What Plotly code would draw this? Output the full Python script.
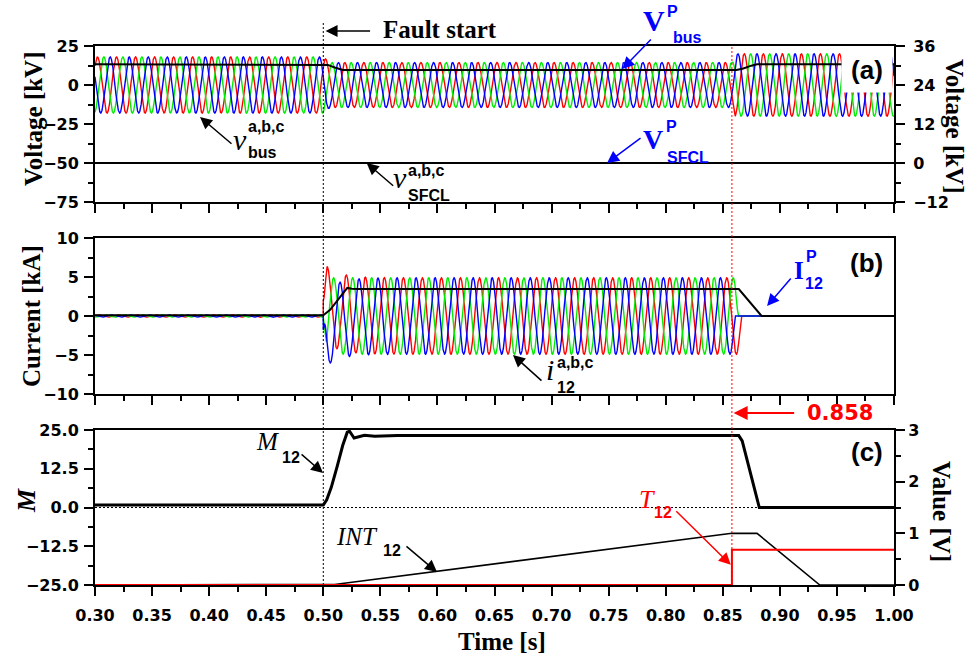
import numpy as np
import plotly.graph_objects as go

# ---------------- data ----------------
T_MIN, T_MAX = 0.30, 1.00
FAULT_T = 0.50          # fault start [s]
CLEAR_T = 0.858         # trip instant [s]
F_GRID = 60.0           # Hz (counted cycles)
PHASE_COLORS = ["#ff0000", "#00ee00", "#0000ff"]
phase_i_rad = [0.25, 0.25 - 2.094, 0.25 + 2.094]     # current phase a,b,c
phase_v_rad = [0.75, 0.75 - 2.094, 0.75 + 2.094]     # voltage phase a,b,c

# bus voltage peak envelope [kV]
vbus_env_t = [0.300, 0.500, 0.506, 0.858, 0.861, 1.000]
vbus_env_amp = [18.0, 18.0, 14.4, 14.4, 20.0, 20.0]

# line current peak envelope [kA]
i12_env_t = [0.300, 0.500, 0.503, 0.858, 1.000]
i12_env_amp = [0.15, 0.15, 4.9, 4.9, 4.9]
i12_dc_offset = [1.9, 0.0, -1.9]      # kA, decaying offset at fault inception
i12_dc_tau = 0.012                    # s

# peak-value signals
vp_bus_t = [0.300, 0.500, 0.504, 0.510, 0.517, 0.862, 0.868, 0.875, 0.880, 1.000]
vp_bus = [13.3, 13.3, 12.9, 11.2, 9.6, 9.6, 10.6, 12.4, 13.3, 13.3]          # kV
ip12_t = [0.300, 0.500, 0.506, 0.521, 0.525, 0.530, 0.864, 0.884, 1.000]
ip12 = [0.1, 0.1, 0.8, 3.6, 3.5, 3.45, 3.45, 0.0, 0.0]                         # kA
vsfcl_t = [0.300, 1.000]
vsfcl = [0.0, 0.0]                                                              # kV

# protection signals
m12_t = [0.300, 0.500, 0.503, 0.507, 0.512, 0.517, 0.521, 0.523, 0.527, 0.531,
         0.536, 0.545, 0.555, 0.565, 0.864, 0.867, 0.882, 1.000]
m12 = [0.8, 0.8, 2.5, 6.5, 13.0, 20.0, 24.3, 24.6, 22.4, 22.9,
       23.3, 23.0, 23.2, 23.2, 23.2, 21.5, 0.0, 0.0]
int12_t = [0.300, 0.500, 0.510, 0.520, 0.858, 0.880, 0.935, 1.000]
int12 = [0.0, 0.0, 0.01, 0.04, 1.0, 1.0, 0.0, 0.0]                              # V
t12_t = [0.300, 0.858, 0.858, 1.000]
t12 = [0.0, 0.0, 0.68, 0.68]                                                    # V

# ---------------- waveforms built from the envelopes ----------------
t = np.linspace(T_MIN, T_MAX, 14001)
w = 2 * np.pi * F_GRID
vbus_amp = np.interp(t, vbus_env_t, vbus_env_amp)
vbus = [vbus_amp * np.sin(w * t + ph) for ph in phase_v_rad]

i_amp = np.interp(t, i12_env_t, i12_env_amp)
dc_decay = np.where(t >= FAULT_T, np.exp(-(t - FAULT_T) / i12_dc_tau), 0.0)
i12 = []
k0 = int(np.searchsorted(t, CLEAR_T))
for ph, d in zip(phase_i_rad, i12_dc_offset):
    y = i_amp * np.sin(w * t + ph) + d * dc_decay
    s = np.sign(y[k0:])
    cross = np.nonzero(s[1:] * s[:-1] <= 0)[0]
    y[k0 + cross[0] + 1:] = 0.0          # breaker opens at current zero
    i12.append(y)

# ---------------- layout geometry ----------------
W, H = 974, 657
ML, MR, MT, MB = 95, 80, 46, 72
PW, PH = W - ML - MR, H - MT - MB


def px(x):
    return (x - ML) / PW


def py(y):
    return (H - MB - y) / PH


TICKFONT = dict(family="DejaVu Sans", size=16, color="black", weight="bold")
SERIF = "Liberation Serif"
SANS = "Liberation Sans"

fig = go.Figure()
LW = 1.4
for k in range(3):
    fig.add_trace(go.Scatter(x=t, y=vbus[k], xaxis="x", yaxis="y", mode="lines",
                             line=dict(color=PHASE_COLORS[k], width=LW)))
fig.add_trace(go.Scatter(x=vp_bus_t, y=vp_bus, xaxis="x", yaxis="y", mode="lines",
                         line=dict(color="black", width=2)))
for k in range(3):
    fig.add_trace(go.Scatter(x=vsfcl_t, y=vsfcl, xaxis="x", yaxis="y2", mode="lines",
                             line=dict(color=PHASE_COLORS[k], width=LW)))
fig.add_trace(go.Scatter(x=vsfcl_t, y=vsfcl, xaxis="x", yaxis="y2", mode="lines",
                         line=dict(color="black", width=2)))

for k in range(3):
    fig.add_trace(go.Scatter(x=t, y=i12[k], xaxis="x2", yaxis="y3", mode="lines",
                             line=dict(color=PHASE_COLORS[k], width=LW)))
fig.add_trace(go.Scatter(x=ip12_t, y=ip12, xaxis="x2", yaxis="y3", mode="lines",
                         line=dict(color="black", width=2)))

fig.add_trace(go.Scatter(x=m12_t, y=m12, xaxis="x3", yaxis="y4", mode="lines",
                         line=dict(color="black", width=3)))
fig.add_trace(go.Scatter(x=int12_t, y=int12, xaxis="x3", yaxis="y5", mode="lines",
                         line=dict(color="black", width=1.6)))
fig.add_trace(go.Scatter(x=t12_t, y=t12, xaxis="x3", yaxis="y5", mode="lines",
                         line=dict(color="#ff0000", width=2)))


def xax(anchor, labels):
    return dict(domain=[0, 1], anchor=anchor, range=[T_MIN, T_MAX], tick0=0.3, dtick=0.05,
                tickformat=".2f", ticks="outside", ticklen=9, tickwidth=2, tickcolor="black",
                showline=True, linecolor="black", linewidth=2, mirror=True,
                showgrid=False, zeroline=False, showticklabels=labels, tickfont=TICKFONT,
                ticklabelstandoff=6,
                minor=dict(tick0=0.3, dtick=0.025, ticks="outside", ticklen=5, tickwidth=2,
                           tickcolor="black"))


def yax(domain, rng, dtick, side="left", overlay=None, anchor="x", fmt=None, mirror=True,
        standoff=2):
    d = dict(domain=domain, range=rng, tick0=rng[0], dtick=dtick, side=side, anchor=anchor,
             ticks="outside", ticklen=9, tickwidth=2, tickcolor="black",
             showline=True, linecolor="black", linewidth=2, mirror=mirror,
             showgrid=False, zeroline=False, tickfont=TICKFONT,
             ticklabelstandoff=standoff,
             minor=dict(tick0=rng[0], dtick=dtick / 2, ticks="outside", ticklen=5,
                        tickwidth=2, tickcolor="black"))
    if fmt:
        d["tickformat"] = fmt
    if overlay:
        d["overlaying"] = overlay
    return d


dom_a = [py(202), py(46)]
dom_b = [py(394), py(238)]
dom_c = [0, py(430)]

fig.update_layout(
    width=W, height=H, margin=dict(l=ML, r=MR, t=MT, b=MB, autoexpand=False),
    paper_bgcolor="white", plot_bgcolor="white", showlegend=False,
    xaxis=xax("y", False),
    xaxis2=xax("y3", False),
    xaxis3=dict(xax("y4", True), layer="below traces"),
    yaxis=yax(dom_a, [-75, 25], 25),
    yaxis2=yax(dom_a, [-12, 36], 12, side="right", overlay="y", mirror=False, standoff=5),
    yaxis3=yax(dom_b, [-10, 10], 5),
    yaxis4=dict(yax(dom_c, [-25, 25], 12.5, fmt=".1f", anchor="x3"), layer="below traces"),
    yaxis5=yax(dom_c, [0, 3], 1, side="right", overlay="y4", anchor="x3", mirror=False,
               standoff=0),
)
fig.layout.yaxis.anchor = "x"
fig.layout.yaxis3.anchor = "x2"
fig.layout.yaxis5.anchor = "x3"

# reference lines
fig.add_shape(type="line", xref="x", yref="paper", x0=FAULT_T, x1=FAULT_T, y0=0, y1=py(21),
              line=dict(color="black", width=1, dash="2px,2px"))
fig.add_shape(type="line", xref="x", yref="paper", x0=CLEAR_T, x1=CLEAR_T, y0=0, y1=1,
              line=dict(color="#ff0000", width=1, dash="2px,2px"))
fig.add_shape(type="line", xref="x3", yref="y4", x0=T_MIN, x1=T_MAX, y0=0, y1=0,
              line=dict(color="black", width=1, dash="2px,2px"), layer="below")

ann = []


def lab(text, x, y, size, family=SANS, color="black", bold=True, italic=False,
        xanchor="left", angle=0, **kw):
    ann.append(dict(text=text, x=px(x), y=py(y), xref="paper", yref="paper",
                    xanchor=xanchor, yanchor="middle", showarrow=False, textangle=angle,
                    font=dict(family=family, size=size, color=color,
                              weight="bold" if bold else "normal",
                              style="italic" if italic else "normal"), **kw))


def arrow(xref, yref, x, y, ax, ay, color="black", width=1.5, size=1.6):
    ann.append(dict(text="", x=x, y=y, xref=xref, yref=yref, ax=ax, ay=ay,
                    axref="pixel", ayref="pixel", showarrow=True, arrowhead=2,
                    arrowsize=size, arrowwidth=width, arrowcolor=color, standoff=0))


BLUE = "#0000ff"
RED = "#ff0000"

# axis titles
lab("Voltage [kV]", 33, 119, 25, SERIF, xanchor="center", angle=-90)
lab("Current [kA]", 31, 316, 25, SERIF, xanchor="center", angle=-90)
lab("M", 26, 501, 26, SERIF, italic=True, xanchor="center", angle=-90)
lab("Voltage [kV]", 955, 126, 25, SERIF, xanchor="center", angle=90)
lab("Value [V]", 942, 511, 25, SERIF, xanchor="center", angle=90)
lab("Time [s]", 502, 641, 25, SERIF, xanchor="center")

# panel letters
lab("(a)", 866.5, 69.5, 26, bgcolor="white", width=40, height=34, borderpad=5,
    xanchor="center")
lab("(b)", 866.5, 263, 26, xanchor="center")
lab("(c)", 866.5, 452, 26, xanchor="center")

# fault start
lab("Fault start", 381, 30, 25, SERIF)
arrow("x", "paper", 0.502, py(31), 46, 0)

# V^P_bus
lab("V", 641, 21, 30, SERIF, color=BLUE)
lab("P", 665, 11, 16, color=BLUE)
lab("bus", 671, 37, 16, color=BLUE)
arrow("x", "y", 0.762, 10.2, 30, -31, color=BLUE)

# v_bus
lab("v", 231, 139, 30, SERIF, bold=False, italic=True)
lab("a,b,c", 246, 127, 16)
lab("bus", 246, 152, 16)
arrow("x", "y", 0.392, -20.5, 33, 28)

# v_SFCL
lab("v", 391, 177, 30, SERIF, bold=False, italic=True)
lab("a,b,c", 406, 170, 16)
lab("SFCL", 406, 195, 16)
arrow("x", "y", 0.538, -50, 28, 24)

# V^P_SFCL
lab("V", 641, 139, 28, SERIF, color=BLUE)
lab("P", 664, 126, 16, color=BLUE)
lab("SFCL", 665, 157, 16, color=BLUE)
arrow("x", "y", 0.7486, -50, 35, -26, color=BLUE)

# i_12
lab("i", 544, 369, 30, SERIF, bold=False, italic=True)
lab("a,b,c", 555, 362, 16)
lab("12", 555, 387, 16)
arrow("x2", "y3", 0.6662, -5.0, 30, 27)

# I^P_12
lab("I", 792, 270, 25, SERIF, color=BLUE)
lab("P", 804, 256, 16, color=BLUE)
lab("12", 803, 283, 16, color=BLUE)
arrow("x2", "y3", 0.8888, 1.28, 25, -29, color=BLUE)

# 0.858 marker
lab("0.858", 805, 413, 21, family="DejaVu Sans", color=RED)
arrow("x2", "paper", 0.8595, py(413), 62, 0, color=RED, width=2, size=1.4)

# M_12
lab("M", 254, 442, 25, SERIF, bold=False, italic=True)
lab("12", 280, 457, 16)
arrow("x3", "y4", 0.4998, 11.1, -23, -20)

# INT_12
lab("INT", 334, 536, 25, SERIF, bold=False, italic=True)
lab("12", 381, 550, 16)
arrow("x3", "y5", 0.5996, 0.25, -32, -27)

# T_12
lab("T", 637, 499, 26, SERIF, bold=False, italic=True, color=RED)
lab("12", 652, 512, 16, color=RED)
arrow("x3", "y5", 0.857, 0.39, -56, -55, color=RED)

fig.update_layout(annotations=ann)
fig.write_html("out.html", config={"displayModeBar": False},
               post_script="document.body.style.margin='0px';document.body.style.padding='0px';")
